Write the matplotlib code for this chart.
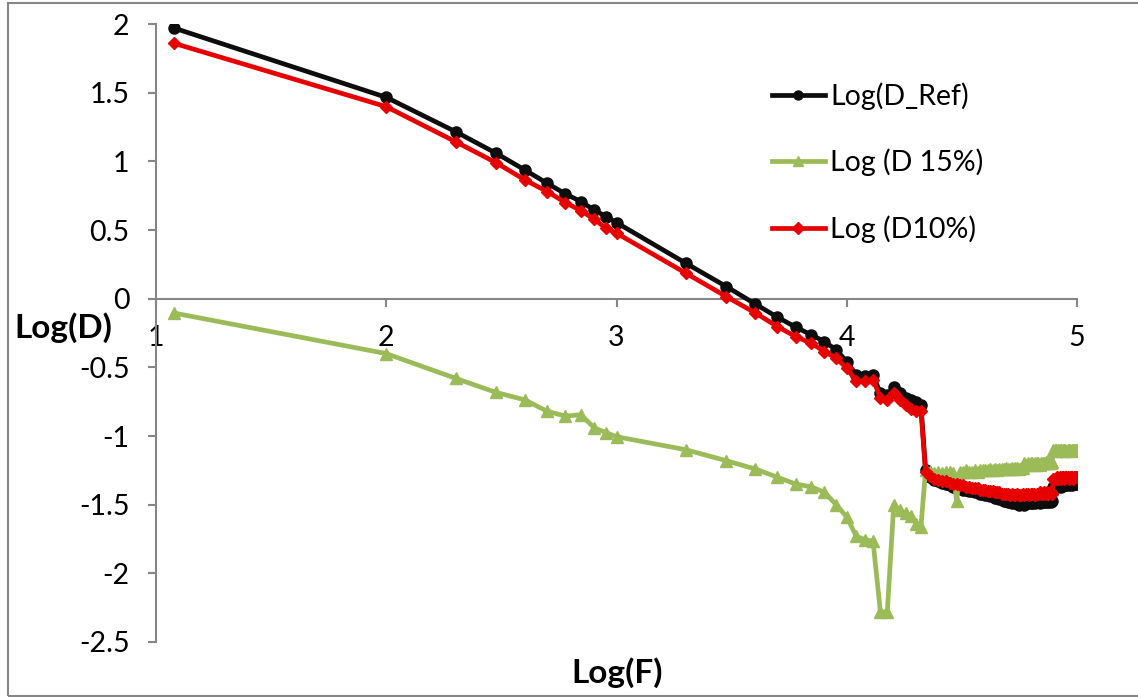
import matplotlib
matplotlib.use("Agg")
import matplotlib.pyplot as plt
import numpy as np
from matplotlib.patches import Rectangle

plt.rcParams['font.family'] = ['Lato', 'DejaVu Sans']
plt.rcParams['axes.unicode_minus'] = False

# Frequencies (Hz)
freq = [12, 100, 200, 300, 400, 500, 600, 700, 800, 900, 1000,
        2000, 3000, 4000, 5000, 6000, 7000, 8000, 9000, 10000,
        11000, 12000, 13000, 14000, 15000, 16000, 17000, 18000, 19000, 20000,
        21000, 22000, 23000, 24000, 25000, 26000, 27000, 28000, 29000, 30000,
        31000, 32000, 33000, 34000, 35000, 36000, 37000, 38000, 39000, 40000,
        41000, 42000, 43000, 44000, 45000, 46000, 47000, 48000, 49000, 50000,
        51000, 52000, 53000, 54000, 55000, 56000, 57000, 58000, 59000, 60000,
        61000, 62000, 63000, 64000, 65000, 66000, 67000, 68000, 69000, 70000,
        71000, 72000, 73000, 74000, 75000, 76000, 77000, 78000, 79000, 80000,
        81000, 82000, 83000, 84000, 85000, 86000, 87000, 88000, 89000, 90000,
        91000, 92000, 93000, 94000, 95000, 96000, 97000, 98000, 99000, 100000]

log_d_ref = [1.970, 1.466, 1.216, 1.059, 0.937, 0.840, 0.763, 0.707, 0.646, 0.598, 0.554,
             0.258, 0.088, -0.038, -0.135, -0.207, -0.263, -0.312, -0.373, -0.458,
             -0.555, -0.560, -0.555, -0.690, -0.705, -0.640, -0.690, -0.720, -0.740, -0.755,
             -0.775, -1.25, -1.30, -1.32, -1.33, -1.34, -1.35, -1.36, -1.37, -1.38,
             -1.38, -1.39, -1.39, -1.40, -1.40, -1.41, -1.41, -1.42, -1.42, -1.43,
             -1.43, -1.44, -1.44, -1.45, -1.45, -1.46, -1.46, -1.47, -1.47, -1.48,
             -1.48, -1.49, -1.48, -1.49, -1.49, -1.50, -1.49, -1.49, -1.50, -1.49,
             -1.49, -1.48, -1.49, -1.49, -1.48, -1.49, -1.48, -1.48, -1.49, -1.48,
             -1.48, -1.48, -1.47, -1.48, -1.48, -1.47, -1.48, -1.47, -1.37, -1.37,
             -1.36, -1.37, -1.36, -1.36, -1.37, -1.36, -1.36, -1.35, -1.36, -1.36,
             -1.35, -1.36, -1.35, -1.35, -1.36, -1.35, -1.35, -1.35, -1.34, -1.35]

log_d15 = [-0.105, -0.400, -0.580, -0.683, -0.737, -0.820, -0.855, -0.845, -0.940, -0.975, -1.005,
           -1.10, -1.18, -1.24, -1.30, -1.35, -1.37, -1.41, -1.50, -1.59,
           -1.73, -1.755, -1.765, -2.28, -2.28, -1.50, -1.54, -1.56, -1.58, -1.64,
           -1.66, -1.25, -1.26, -1.27, -1.26, -1.27, -1.26, -1.26, -1.27, -1.47,
           -1.26, -1.26, -1.25, -1.26, -1.26, -1.25, -1.26, -1.25, -1.25, -1.25,
           -1.25, -1.24, -1.25, -1.24, -1.25, -1.24, -1.24, -1.24, -1.23, -1.24,
           -1.24, -1.23, -1.24, -1.23, -1.23, -1.24, -1.23, -1.23, -1.20, -1.21,
           -1.20, -1.21, -1.20, -1.20, -1.21, -1.20, -1.20, -1.20, -1.21, -1.20,
           -1.20, -1.20, -1.19, -1.20, -1.20, -1.19, -1.20, -1.19, -1.10, -1.10,
           -1.10, -1.11, -1.10, -1.10, -1.10, -1.11, -1.10, -1.10, -1.10, -1.11,
           -1.10, -1.10, -1.10, -1.11, -1.10, -1.10, -1.10, -1.10, -1.10, -1.10]

log_d10 = [1.859, 1.398, 1.143, 0.990, 0.865, 0.780, 0.700, 0.641, 0.579, 0.513, 0.477,
           0.186, 0.015, -0.103, -0.203, -0.276, -0.324, -0.385, -0.433, -0.506,
           -0.600, -0.603, -0.590, -0.720, -0.736, -0.690, -0.740, -0.775, -0.800, -0.820,
           -0.815, -1.26, -1.29, -1.31, -1.32, -1.33, -1.33, -1.34, -1.35, -1.35,
           -1.36, -1.36, -1.37, -1.37, -1.38, -1.38, -1.38, -1.39, -1.39, -1.39,
           -1.40, -1.40, -1.40, -1.41, -1.41, -1.41, -1.42, -1.42, -1.42, -1.42,
           -1.43, -1.42, -1.43, -1.43, -1.42, -1.43, -1.43, -1.42, -1.43, -1.42,
           -1.42, -1.43, -1.42, -1.42, -1.42, -1.43, -1.42, -1.42, -1.41, -1.42,
           -1.42, -1.41, -1.42, -1.41, -1.42, -1.41, -1.41, -1.42, -1.31, -1.31,
           -1.31, -1.30, -1.31, -1.30, -1.31, -1.30, -1.30, -1.31, -1.30, -1.30,
           -1.30, -1.31, -1.30, -1.30, -1.30, -1.31, -1.30, -1.30, -1.30, -1.30]

series_labels = ['Log(D_Ref)', 'Log (D 15%)', 'Log (D10%)']
x_ticks = [1, 2, 3, 4, 5]
y_ticks = [-2.5, -2, -1.5, -1, -0.5, 0, 0.5, 1, 1.5, 2]
y_ticklabels = ['-2.5', '-2', '-1.5', '-1', '-0.5', '0', '0.5', '1', '1.5', '2']

W, H = 1138, 697
fig = plt.figure(figsize=(W / 100, H / 100), dpi=100)
ax = fig.add_axes([156 / W, 1 - 642 / H, (1077 - 156) / W, (642 - 24) / H])

logf = np.log10(freq)
ax.plot(logf, log_d_ref, color='#0d0d0d', lw=3.4, marker='o', ms=8, label=series_labels[0], zorder=3)
ax.plot(logf, log_d15, color='#9bbb59', lw=3.4, marker='^', ms=8, label=series_labels[1], zorder=4)
ax.plot(logf, log_d10, color='#e60000', lw=3.4, marker='D', ms=6.5, label=series_labels[2], zorder=5)

ax.set_xlim(1, 5)
ax.set_ylim(-2.5, 2)
ax.set_xticks(x_ticks)
ax.set_xticklabels([str(t) for t in x_ticks])
ax.set_yticks(y_ticks)
ax.set_yticklabels(y_ticklabels)

gray = '#868686'
for s in ['top', 'right']:
    ax.spines[s].set_visible(False)
ax.spines['bottom'].set_position(('data', 0))
ax.spines['bottom'].set_color(gray)
ax.spines['left'].set_color(gray)
ax.spines['bottom'].set_linewidth(1.5)
ax.spines['left'].set_linewidth(1.5)
ax.tick_params(axis='both', colors=gray, labelcolor='black', labelsize=20.5,
               length=6, width=1.5, direction='out')
ax.tick_params(axis='x', pad=13)
ax.tick_params(axis='y', pad=13)

fig.text(63 / W, 1 - 328 / H, 'Log(D)', fontsize=24, fontweight='bold', ha='center', va='center')
fig.text(617 / W, 1 - 673 / H, 'Log(F)', fontsize=24, fontweight='bold', ha='center', va='center')

leg = ax.legend(loc='upper left', bbox_to_anchor=(772 / W, 1 - 82 / H), bbox_transform=fig.transFigure,
                frameon=False, fontsize=20.5, handlelength=1.86, handletextpad=0.18,
                labelspacing=1.37, borderaxespad=0, borderpad=0)
for h in leg.legend_handles:
    h.set_markersize(6.5)

fig.add_artist(Rectangle((8 / W, 1 - 696 / H), 1.2, (696 - 3) / H, transform=fig.transFigure,
                         fill=False, edgecolor=gray, lw=1.5, clip_on=False))

fig.savefig('out.png', dpi=100)
